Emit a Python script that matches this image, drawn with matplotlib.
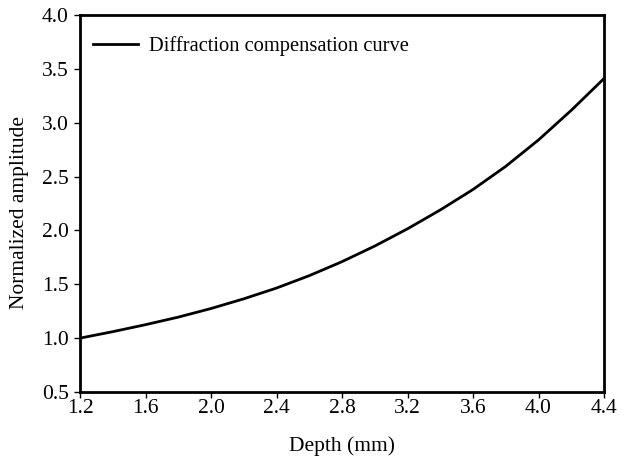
import matplotlib
matplotlib.use('Agg')
import matplotlib.pyplot as plt

# data
depth = [1.2, 1.4, 1.6, 1.8, 2.0, 2.2, 2.4, 2.6, 2.8, 3.0,
         3.2, 3.4, 3.6, 3.8, 4.0, 4.2, 4.4]
amplitude = [1.00, 1.06, 1.125, 1.195, 1.275, 1.365, 1.465, 1.58, 1.71, 1.855,
             2.015, 2.19, 2.38, 2.595, 2.84, 3.115, 3.41]
xticks = [1.2, 1.6, 2.0, 2.4, 2.8, 3.2, 3.6, 4.0, 4.4]
yticks = [0.5, 1.0, 1.5, 2.0, 2.5, 3.0, 3.5, 4.0]

plt.rcParams['font.family'] = ['Liberation Serif', 'DejaVu Serif']

fig = plt.figure(figsize=(6.24, 4.61), dpi=100)
ax = fig.add_axes([80 / 624, 1 - 392 / 461, 524 / 624, 377 / 461])

ax.plot(depth, amplitude, color='black', linewidth=2, label='Diffraction compensation curve')

ax.set_xlim(1.2, 4.4)
ax.set_ylim(0.5, 4.0)
ax.set_xticks(xticks)
ax.set_yticks(yticks)
ax.set_xticklabels(['%.1f' % v for v in xticks])
ax.set_yticklabels(['%.1f' % v for v in yticks])
ax.tick_params(direction='out', length=4, width=1, labelsize=15.5)
ax.tick_params(axis='x', pad=1)
ax.tick_params(axis='y', pad=4)

for s in ax.spines.values():
    s.set_linewidth(2)

ax.set_xlabel('Depth (mm)', fontsize=15.5, labelpad=13.5)
ax.set_ylabel('Normalized amplitude', fontsize=15.5)
ax.yaxis.set_label_coords(-0.098, 0.477)

ax.legend(loc='upper left', bbox_to_anchor=(0.009, 0.965), frameon=False,
          fontsize=14.8, handlelength=2.2, handletextpad=0.55,
          borderaxespad=0, borderpad=0.4)

fig.savefig('out.png', dpi=100)
